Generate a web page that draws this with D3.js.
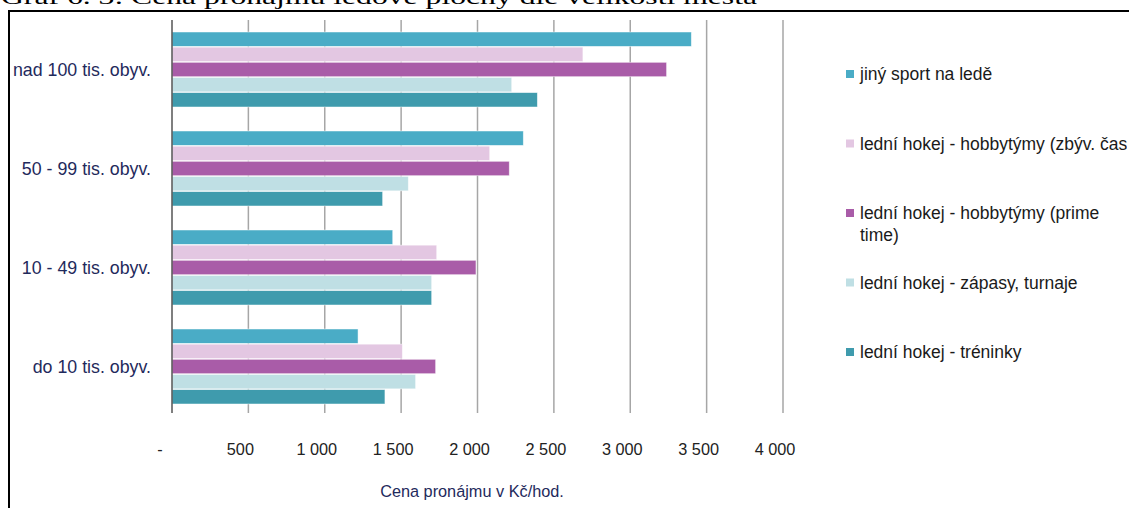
<!DOCTYPE html>
<html><head><meta charset="utf-8">
<script src="https://cdn.jsdelivr.net/npm/d3@7"></script>
<style>
html,body{margin:0;padding:0;background:#fff;}
svg{display:block;}
</style></head>
<body>
<script>
const categories = ["nad 100 tis. obyv.", "50 - 99 tis. obyv.", "10 - 49 tis. obyv.", "do 10 tis. obyv."];
const seriesNames = ["jiný sport na ledě", "lední hokej - hobbytýmy (zbýv. čas)", "lední hokej - hobbytýmy (prime time)", "lední hokej - zápasy, turnaje", "lední hokej - tréninky"];
const legendLines = [["jiný sport na ledě"], ["lední hokej - hobbytýmy (zbýv. čas)"], ["lední hokej - hobbytýmy (prime", "time)"], ["lední hokej - zápasy, turnaje"], ["lední hokej - tréninky"]];
const jinySport = [3400, 2300, 1445, 1218];
const zbyvCas = [2690, 2080, 1733, 1508];
const primeTime = [3238, 2208, 1990, 1726];
const zapasy = [2224, 1547, 1700, 1595];
const treninky = [2392, 1379, 1700, 1394];
const tickValues = [0, 500, 1000, 1500, 2000, 2500, 3000, 3500, 4000];
const tickLabels = ["-", "500", "1 000", "1 500", "2 000", "2 500", "3 000", "3 500", "4 000"];
const colors = ["#4aacc6", "#e3c7e2", "#a95ca8", "#bfdfe4", "#3f9bad"];

const values = [jinySport, zbyvCas, primeTime, zapasy, treninky];
const W = 1129, H = 508;
const svg = d3.select("body").append("svg").attr("width", W).attr("height", H);

// Title (partly cut off at the top, as in the reference)
svg.append("text").attr("x", 1).attr("y", 4)
  .attr("font-family", "Liberation Serif, Times New Roman, serif")
  .attr("font-size", 22).attr("fill", "#000")
  .attr("textLength", 756).attr("lengthAdjust", "spacingAndGlyphs")
  .text("Graf 6. 3: Cena pronájmu ledové plochy dle velikosti města");

// frame
svg.append("line").attr("x1", 8).attr("x2", W).attr("y1", 11).attr("y2", 11).attr("stroke", "#000").attr("stroke-width", 2);
svg.append("line").attr("x1", 9).attr("x2", 9).attr("y1", 10).attr("y2", H).attr("stroke", "#000").attr("stroke-width", 2);

const x = d3.scaleLinear().domain([0, 4000]).range([172, 783]);
const y0 = d3.scaleBand().domain(categories).range([20, 416]).paddingInner(0.2424).paddingOuter(0.1212);
const y1 = d3.scaleBand().domain(seriesNames).range([0, y0.bandwidth()]).paddingInner(0.05);

// gridlines
svg.append("g").selectAll("line").data(tickValues.slice(1)).join("line")
  .attr("x1", d => x(d)).attr("x2", d => x(d))
  .attr("y1", 20).attr("y2", 413)
  .attr("stroke", "#a6a6a6").attr("stroke-width", 1.5);

// bars
const groups = svg.append("g").selectAll("g").data(categories).join("g")
  .attr("transform", d => `translate(0,${y0(d)})`);
groups.selectAll("rect").data((c, ci) => seriesNames.map((s, si) => ({s, si, v: values[si][ci]}))).join("rect")
  .attr("x", x(0)).attr("y", d => y1(d.s))
  .attr("width", d => x(d.v) - x(0)).attr("height", y1.bandwidth())
  .attr("fill", d => colors[d.si])
  .attr("stroke", "rgba(255,255,255,0.6)").attr("stroke-width", 0.8);

// axis line
svg.append("line").attr("x1", x(0)).attr("x2", x(0)).attr("y1", 20).attr("y2", 413)
  .attr("stroke", "#555").attr("stroke-width", 1.5);

// category labels
svg.append("g").selectAll("text").data(categories).join("text")
  .attr("x", 151).attr("y", d => y0(d) + y0.bandwidth() / 2).attr("dy", "0.36em")
  .attr("text-anchor", "end")
  .attr("font-family", "Liberation Sans, Arial, sans-serif").attr("font-size", 17.8)
  .attr("fill", "#1f2a5c").text(d => d);

// tick labels
svg.append("g").selectAll("text").data(tickValues).join("text")
  .attr("x", (d, i) => x(d) - (i === 0 ? 12 : 8)).attr("y", 449).attr("dy", "0.36em")
  .attr("text-anchor", "middle")
  .attr("font-family", "Liberation Sans, Arial, sans-serif").attr("font-size", 16.3)
  .attr("fill", "#222").text((d, i) => tickLabels[i]);

// axis title
svg.append("text").attr("x", 472).attr("y", 491).attr("dy", "0.36em")
  .attr("text-anchor", "middle")
  .attr("font-family", "Liberation Sans, Arial, sans-serif").attr("font-size", 16.3)
  .attr("fill", "#1f2a5c").text("Cena pronájmu v Kč/hod.");

// legend
const legendY = d3.scalePoint().domain(seriesNames).range([74, 352]);
svg.append("clipPath").attr("id", "lc").append("rect").attr("x", 0).attr("y", 0).attr("width", 1127).attr("height", H);
const lg = svg.append("g").attr("clip-path", "url(#lc)").selectAll("g").data(seriesNames).join("g")
  .attr("transform", d => `translate(0,${legendY(d)})`);
lg.append("rect").attr("x", 846).attr("y", -4).attr("width", 8).attr("height", 8)
  .attr("fill", (d, i) => colors[i]);
lg.each(function(d, i) {
  const g = d3.select(this);
  legendLines[i].forEach((ln, li) => {
    g.append("text").attr("x", 860).attr("y", li * 22).attr("dy", "0.36em")
      .attr("font-family", "Liberation Sans, Arial, sans-serif").attr("font-size", 17.5)
      .attr("fill", "#1a1a1a").text(ln);
  });
});
</script>
</body></html>
